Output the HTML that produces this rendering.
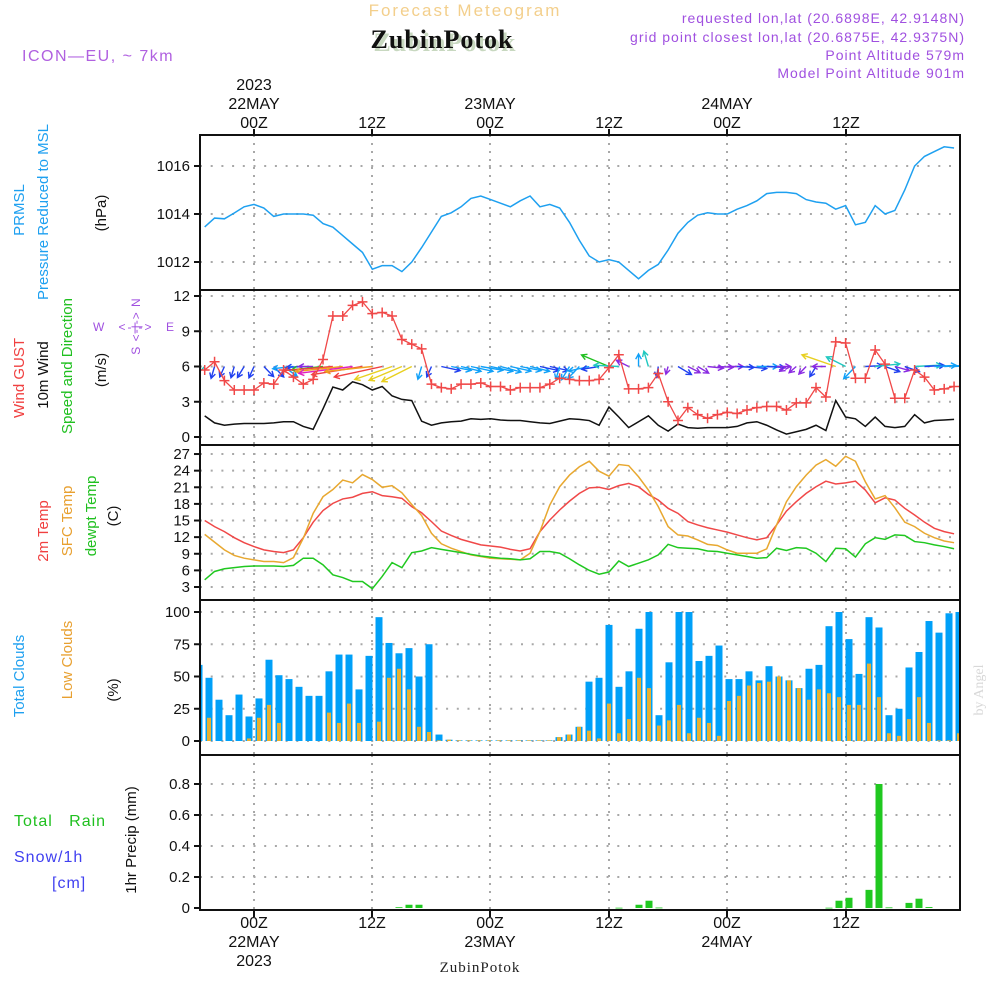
<!DOCTYPE html>
<html><head><meta charset="utf-8"><style>
html,body{margin:0;padding:0;background:#fff}
svg{display:block}
text{font-family:"Liberation Sans",sans-serif}
text.serif{font-family:"Liberation Serif",serif}
</style></head><body>
<svg id="chart" width="1000" height="1000" viewBox="0 0 1000 1000" xmlns="http://www.w3.org/2000/svg">
<text x="465" y="16" text-anchor="middle" font-size="17" fill="#f3cf8c" letter-spacing="2">Forecast Meteogram</text>
<text x="965" y="23" text-anchor="end" font-size="14" fill="#a050e0" letter-spacing="1">requested lon,lat (20.6898E, 42.9148N)</text>
<text x="965" y="42" text-anchor="end" font-size="14" fill="#a050e0" letter-spacing="1">grid point closest lon,lat (20.6875E, 42.9375N)</text>
<text class="serif" x="445" y="51" text-anchor="middle" font-size="26" font-weight="bold" fill="#c8d8c0" letter-spacing="1">ZubinPotok</text>
<text class="serif" x="442" y="48" text-anchor="middle" font-size="26" font-weight="bold" fill="#111" letter-spacing="1">ZubinPotok</text>
<text x="965" y="60" text-anchor="end" font-size="14" fill="#a050e0" letter-spacing="1">Point Altitude 579m</text>
<text x="965" y="78" text-anchor="end" font-size="14" fill="#a050e0" letter-spacing="1">Model Point Altitude 901m</text>
<text x="22" y="61" font-size="16" fill="#b060e0" letter-spacing="1.5">ICON—EU, ~ 7km</text>
<text class="serif" transform="translate(983,690) rotate(-90)" text-anchor="middle" font-size="14" fill="#d8d8d8">by Angel</text>
<g id="g"></g>
</svg>
<script>
// ---- data (hourly, from 19Z 21 May) ----
const timeLabels = [["2023","22MAY","00Z"],["","","12Z"],["","23MAY","00Z"],["","","12Z"],["","24MAY","00Z"],["","","12Z"]];
const pressure = [1013.46,1013.83,1013.8,1014.04,1014.3,1014.4,1014.25,1013.9,1014.0,1014.0,1014.0,1013.95,1013.6,1013.45,1013.1,1012.75,1012.4,1011.7,1011.85,1011.85,1011.6,1012,1012.6,1013.25,1013.9,1014.05,1014.3,1014.65,1014.75,1014.6,1014.45,1014.3,1014.55,1014.75,1014.3,1014.4,1014.25,1013.65,1012.9,1012.25,1012,1012.1,1012,1011.65,1011.3,1011.65,1011.9,1012.5,1013.2,1013.65,1013.95,1014.05,1014.0,1014.0,1014.2,1014.35,1014.55,1014.85,1014.9,1014.9,1014.85,1014.6,1014.5,1014.45,1014.2,1014.35,1013.55,1013.65,1014.35,1014,1014.15,1015,1016,1016.4,1016.6,1016.8,1016.75];
const gust = [5.7,6.4,4.8,4.0,4.0,4.0,4.6,4.5,5.7,5.1,4.5,4.9,6.6,10.3,10.3,11.2,11.5,10.5,10.6,10.3,8.3,7.9,7.5,4.5,4.2,4.1,4.5,4.5,4.6,4.3,4.3,4.0,4.2,4.2,4.2,4.5,5.0,4.9,4.8,4.8,4.9,5.9,7.0,4.1,4.1,4.2,5.4,3.0,1.4,2.5,1.9,1.6,1.9,2.1,2.0,2.3,2.5,2.6,2.6,2.3,2.9,2.9,4.2,3.4,8.1,8.0,5.0,5.0,7.4,6.2,3.3,3.3,5.7,5.1,4.0,4.1,4.3];
const wind = [1.8,1.2,1.0,1.1,1.15,1.15,1.15,1.2,1.3,1.3,0.9,0.65,2.4,4.25,4.0,4.7,4.45,4.0,4.3,3.5,3.2,3.1,1.35,1.0,1.2,1.3,1.35,1.55,1.5,1.55,1.45,1.4,1.4,1.3,1.2,1.15,1.35,1.55,1.5,1.4,1.0,2.55,1.7,0.8,1.3,1.8,1.0,0.5,1.1,0.8,0.75,0.8,0.8,0.8,0.9,1.2,1.3,1.0,0.6,0.25,0.45,0.65,1.0,0.55,3.1,1.7,1.55,0.9,1.7,0.9,0.8,0.9,1.9,1.2,1.4,1.45,1.5];
const windDir = [30,10,15,10,20,15,330,330,320,80,85,90,80,82,80,78,75,80,70,60,55,50,10,15,290,288,292,290,286,290,294,290,288,292,290,290,10,20,30,70,75,125,95,130,180,170,5,10,315,310,315,280,275,270,275,280,270,275,270,40,35,30,20,90,120,130,30,265,260,300,295,300,265,265,265,265,265];
const t2m = [15.0,13.9,13.0,11.9,11.0,10.3,9.7,9.4,9.2,9.7,11.9,14.7,16.8,18.1,18.9,19.2,19.9,20.2,19.5,19.3,19.0,17.5,16.4,14.8,13.1,12.3,11.6,11.1,10.6,10.4,10.2,9.8,9.5,9.9,13.0,15.1,16.9,18.5,19.9,20.9,21.0,20.6,21.3,21.7,21.1,19.7,18.7,17.2,16.3,14.8,14.2,13.7,13.3,12.9,12.4,11.9,11.5,11.9,14.2,16.7,18.4,19.9,21.1,22.1,21.6,21.8,22.1,20.5,18.2,19.1,18.7,17.2,16.0,14.7,13.6,13.0,12.6];
const tsfc = [12.5,11.1,9.7,8.7,8.2,7.9,7.6,7.6,7.4,8.3,11.8,16.3,19.3,20.6,22.3,21.8,23.3,22.4,21.0,21.3,20.0,17.9,15.9,12.7,10.8,10.0,9.4,8.8,8.5,8.2,8.1,8.0,7.9,9.1,13.0,17.8,21.1,23.2,24.7,25.7,23.9,23.0,25.1,24.9,22.9,20.5,17.5,13.9,12.4,12.2,11.5,10.7,10.5,9.7,9.1,9.1,9.1,9.9,14.2,18.4,21.1,23.2,25.0,26.0,24.8,26.6,25.7,22.0,18.9,19.5,17.3,14.7,13.9,12.7,11.9,11.3,11.0];
const tdew = [4.3,5.8,6.3,6.5,6.7,6.8,6.8,6.8,6.7,6.9,8.2,8.2,7.0,5.2,4.7,4.0,4.0,2.7,4.9,7.4,6.5,9.2,9.5,10.1,9.8,9.5,9.2,8.9,8.6,8.4,8.2,8.1,7.9,8.1,9.4,9.4,9.1,8.1,7.0,6.0,5.3,5.7,7.7,6.7,7.3,7.9,8.8,10.7,10.1,10.0,9.9,9.5,9.4,9.1,8.8,8.5,8.2,8.3,10.0,9.6,10.1,10.0,9.1,7.6,10.0,9.9,8.4,10.8,11.9,11.6,12.4,12.3,11.2,11.0,10.6,10.3,9.9];
const cloudTotal = [59,49,32,20,36,19,33,63,51,48,42,35,35,54,67,67,40,66,96,76,68,72,50,75,5,1,0.5,0.5,0.5,0.5,0.5,0.5,0.5,0.5,0.5,0.5,3,5,11,46,49,90,42,54,87,100,20,61,100,100,62,66,74,48,48,54,47,58,50,47,41,56,59,89,100,79,52,96,88,20,25,57,69,93,84,99,100];
const cloudLow = [40,18,0,0,0,2,18,28,14,0,0,0,0,22,14,29,14,0,15,49,56,40,11,7,0.5,1,0.5,0.5,0.5,0.5,0.5,0.5,0.5,0.5,0.5,0.5,3,5,11,8,2,29,6,17,49,41,12,16,28,6,18,14,4,31,35,43,45,46,50,47,41,32,40,37,34,28,28,60,34,6,4,17,34,14,0.5,0.5,6];
const precip = [0,0,0,0,0,0,0,0,0,0,0,0,0,0,0,0,0,0,0,0,0.005,0.021,0.021,0,0,0,0,0,0,0,0,0,0,0,0,0,0,0,0,0,0,0,0.002,0,0.021,0.047,0.003,0,0,0,0,0,0,0,0,0,0,0,0,0,0,0,0,0.002,0.047,0.066,0,0.117,0.80,0.004,0,0.033,0.06,0.006,0,0,0];
const pTicks = [1012,1014,1016];
const wTicks = [0,3,6,9,12];
const tTicks = [3,6,9,12,15,18,21,24,27];
const cTicks = [0,25,50,75,100];
const rTicks = [0,0.2,0.4,0.6,0.8];
const rTickLabels = ["0","0.2","0.4","0.6","0.8"];

// ---- scales ----
const X0 = 200, X1 = 960;
const gridX = [254,372,490,609,727,846];
const lx = k => 204.7 + 9.86 * k;
const bx = k => 199 + 10 * k;
const yP = v => 262 - (v - 1012) * 24;
const yW = v => 437 - v * 11.75;
const yT = v => 587 - (v - 3) * 5.54;
const yC = v => 741 - v * 1.29;
const yR = v => 908 - v * 155;
const panels = [[135,290],[290,445],[445,600],[600,755],[755,910]];

const NS = "http://www.w3.org/2000/svg";
const G = document.getElementById('g');
function mk(tag, attrs, parent) {
  const e = document.createElementNS(NS, tag);
  for (const k in attrs) e.setAttribute(k, attrs[k]);
  (parent || G).appendChild(e);
  return e;
}
function txt(x, y, s, attrs, parent) {
  const t = mk('text', Object.assign({x: x, y: y}, attrs || {}), parent);
  t.textContent = s;
  return t;
}

const defs = mk('defs', {});
const cp = mk('clipPath', {id: 'plotclip'}, defs);
mk('rect', {x: X0, y: 135, width: X1 - X0, height: 775}, cp);

function hgrid(vals, f, name) {
  vals.forEach(v => {
    const l = mk('line', {x1: X0, x2: X1, y1: f(v), y2: f(v), stroke: '#a8a8a8', 'stroke-width': 2, 'stroke-dasharray': '2,8.7'});
    
    
  });
}
hgrid(pTicks, yP, 'pressure-gridline');
hgrid(wTicks, yW, 'wind-gridline');
hgrid(tTicks, yT, 'temp-gridline');
hgrid(cTicks, yC, 'cloud-gridline');
hgrid(rTicks.slice(1), yR, 'precip-gridline');
panels.forEach(p => gridX.forEach(x => {
  const l = mk('line', {x1: x, x2: x, y1: p[0], y2: p[1], stroke: '#a8a8a8', 'stroke-width': 2, 'stroke-dasharray': '2,6'});
  
  
}));

function yticks(vals, labels, f, name) {
  vals.forEach((v, i) => {
    const t = txt(190, f(v) + 5, labels[i], {'text-anchor': 'end', 'font-size': 15, fill: '#111'});
    
    
    mk('line', {x1: 194, x2: 200, y1: f(v), y2: f(v), stroke: '#111', 'stroke-width': 2});
  });
}
yticks(pTicks, pTicks.map(String), yP, 'pressure-tick-label');
yticks(wTicks, wTicks.map(String), yW, 'wind-tick-label');
yticks(tTicks, tTicks.map(String), yT, 'temp-tick-label');
yticks(cTicks, cTicks.map(String), yC, 'cloud-tick-label');
yticks(rTicks, rTickLabels, yR, 'precip-tick-label');

timeLabels.forEach((lab, i) => {
  const x = gridX[i];
  [[lab[0], 90], [lab[1], 109], [lab[2], 128]].forEach(a => {
    if (a[0]) {
      const t = txt(x, a[1], a[0], {'text-anchor': 'middle', 'font-size': 16, fill: '#111'});
      
      
    }
  });
  [[lab[2], 928], [lab[1], 947], [lab[0], 966]].forEach(a => {
    if (a[0]) {
      const t = txt(x, a[1], a[0], {'text-anchor': 'middle', 'font-size': 16, fill: '#111'});
      
      
    }
  });
  mk('line', {x1: x, x2: x, y1: 129, y2: 135, stroke: '#111', 'stroke-width': 2});
  mk('line', {x1: x, x2: x, y1: 910, y2: 917, stroke: '#111', 'stroke-width': 2});
});
const bt = txt(480, 972, 'ZubinPotok', {'text-anchor': 'middle', 'font-size': 15, fill: '#222', 'class': 'serif', 'letter-spacing': '1'});



const plot = mk('g', {'clip-path': 'url(#plotclip)'});

const pLine = mk('polyline', {points: pressure.map((v, k) => lx(k) + ',' + yP(v)).join(' '), fill: 'none', stroke: '#1ea0f0', 'stroke-width': 1.5}, plot);



const wLine = mk('polyline', {points: wind.map((v, k) => lx(k) + ',' + yW(v)).join(' '), fill: 'none', stroke: '#111', 'stroke-width': 1.5}, plot);



function arrowColor(s) {
  if (s < 0.9) return '#8a2be2';
  if (s < 1.3) return '#2040f0';
  if (s < 1.6) return '#10a0f8';
  if (s < 2.0) return '#20c8c0';
  if (s < 2.8) return '#20c020';
  if (s < 3.6) return '#e8d020';
  if (s < 4.2) return '#f0a020';
  if (s < 4.6) return '#f04040';
  return '#e020c0';
}
windDir.forEach((d, k) => {
  const s = wind[k];
  const L = 8 + 10 * s;
  const r = d * Math.PI / 180;
  const x0 = lx(k), y0 = yW(6);
  const x1 = x0 - Math.sin(r) * L, y1 = y0 + Math.cos(r) * L * 0.6;
  const c = arrowColor(s);
  const a = Math.atan2(y1 - y0, x1 - x0);
  const h = 6;
  const p = `M${x0},${y0}L${x1},${y1}M${x1 - h * Math.cos(a - 0.5)},${y1 - h * Math.sin(a - 0.5)}L${x1},${y1}L${x1 - h * Math.cos(a + 0.5)},${y1 - h * Math.sin(a + 0.5)}`;
  const e = mk('path', {d: p, fill: 'none', stroke: c, 'stroke-width': 1.4}, plot);
  
  
});

const gLine = mk('polyline', {points: gust.map((v, k) => lx(k) + ',' + yW(v)).join(' '), fill: 'none', stroke: '#f04848', 'stroke-width': 1.3}, plot);


gust.forEach((v, k) => {
  const x = lx(k), y = yW(v);
  const m = mk('path', {d: `M${x - 5},${y}H${x + 5}M${x},${y - 5}V${y + 5}`, stroke: '#f04848', 'stroke-width': 1.5}, plot);
  
  
});

[[t2m, '#f04848', 'temp-2m-line'], [tsfc, '#e8a830', 'temp-sfc-line'], [tdew, '#20c820', 'dewpoint-line']].forEach(s => {
  const l = mk('polyline', {points: s[0].map((v, k) => lx(k) + ',' + yT(v)).join(' '), fill: 'none', stroke: s[1], 'stroke-width': 1.5}, plot);
  
  
});

cloudTotal.forEach((v, k) => {
  const r = mk('rect', {x: bx(k) - 3.5, y: yC(v), width: 7, height: yC(0) - yC(v), fill: '#00a0f8'}, plot);
  
  
});
cloudLow.forEach((v, k) => {
  const r = mk('rect', {x: bx(k) - 2, y: yC(v), width: 4, height: yC(0) - yC(v), fill: '#e8b030'}, plot);
  
  
});

precip.forEach((v, k) => {
  if (v <= 0) return;
  const r = mk('rect', {x: bx(k) - 3.5, y: yR(v), width: 7, height: Math.max(0.8, yR(0) - yR(v)), fill: '#20c820'}, plot);
  
  
});

panels.forEach(p => {
  const r = mk('rect', {x: X0, y: p[0], width: X1 - X0, height: p[1] - p[0], fill: 'none', stroke: '#111', 'stroke-width': 2});
  
  
});

function vlab(x, y, s, c, name, fs) {
  const t = txt(0, 0, s, {transform: `translate(${x},${y}) rotate(-90)`, 'text-anchor': 'middle', 'font-size': fs || 15, fill: c});
  
  
}
vlab(24, 210, 'PRMSL', '#1ea0f0', 'pressure-title');
vlab(48, 212, 'Pressure Reduced to MSL', '#1ea0f0', 'pressure-subtitle');
vlab(106, 213, '(hPa)', '#111', 'pressure-unit');
vlab(24, 378, 'Wind GUST', '#f04040', 'gust-title');
vlab(48, 375, '10m Wind', '#111', 'wind-title');
vlab(72, 366, 'Speed and Direction', '#20c020', 'wind-subtitle');
vlab(106, 370, '(m/s)', '#111', 'wind-unit');
vlab(48, 531, '2m Temp', '#f04040', 'temp-2m-title');
vlab(72, 521, 'SFC Temp', '#e8a030', 'temp-sfc-title');
vlab(96, 516, 'dewpt Temp', '#20c020', 'dewpoint-title');
vlab(118, 516, '(C)', '#111', 'temp-unit');
vlab(24, 676, 'Total Clouds', '#1ea0f0', 'total-cloud-title');
vlab(72, 660, 'Low Clouds', '#e8a030', 'low-cloud-title');
vlab(118, 690, '(%)', '#111', 'cloud-unit');
vlab(136, 840, '1hr Precip (mm)', '#111', 'precip-title');

const tr = txt(14, 826, 'Total   Rain', {'font-size': 16, fill: '#20c020', style: 'white-space:pre', 'letter-spacing': '1'});


const sn = txt(14, 862, 'Snow/1h', {'font-size': 16, fill: '#4040f0', 'letter-spacing': '1'});


const cm = txt(52, 888, '[cm]', {'font-size': 16, fill: '#4040f0', 'letter-spacing': '1'});



// compass
const comp = mk('g', {});


txt(93, 331, 'W', {fill: '#a050e0', 'font-size': 12}, comp);
txt(136, 331, '<-|->', {fill: '#a050e0', 'font-size': 12, 'text-anchor': 'middle', 'letter-spacing': '2'}, comp);
txt(166, 331, 'E', {fill: '#a050e0', 'font-size': 12}, comp);
txt(0, 0, 'S <-|-> N', {transform: 'translate(140,326) rotate(-90)', 'text-anchor': 'middle', fill: '#a050e0', 'font-size': 12, 'letter-spacing': '1'}, comp);
</script>
</body></html>
